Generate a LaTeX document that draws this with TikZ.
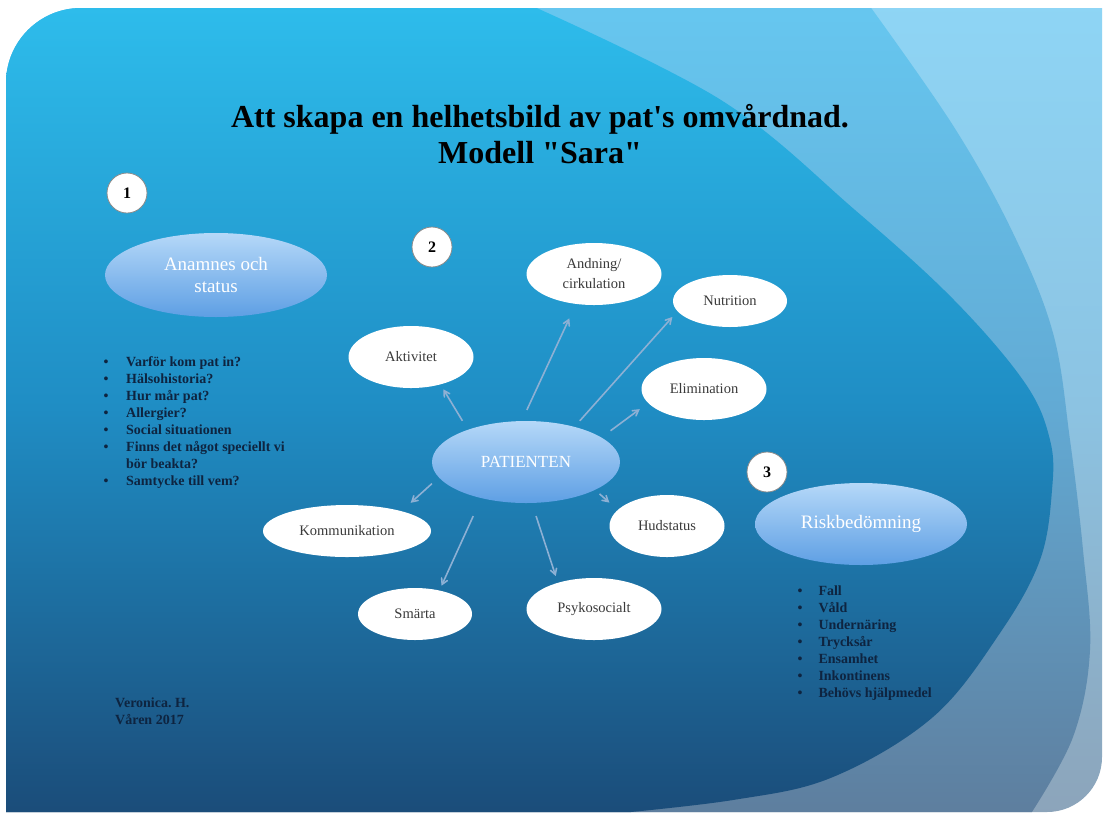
\documentclass[tikz,border=0pt]{standalone}
\usepackage{fontspec}
\setmainfont{Liberation Serif}
\usepackage{tikz}
\usetikzlibrary{shapes,arrows}
\definecolor{lighttop}{HTML}{8ED5F5}
\definecolor{lightmid}{HTML}{8CC3E2}
\definecolor{lightbot}{HTML}{8CA4BA}
\definecolor{medtop}{HTML}{66C7F0}
\definecolor{medmid}{HTML}{62AAD4}
\definecolor{medbot}{HTML}{5E7E9E}
\definecolor{darktop}{HTML}{2EBDEC}
\definecolor{darkmid}{HTML}{1F8DC4}
\definecolor{darkbot}{HTML}{1B4C79}
\definecolor{elltop}{HTML}{B5D8F8}
\definecolor{ellbot}{HTML}{5E9FE4}
\definecolor{elltext}{HTML}{3A3A3A}
\definecolor{navy}{HTML}{0E2440}
\definecolor{arrcol}{HTML}{8DB0D4}

\begin{document}
\begin{tikzpicture}[x=1pt,y=-1pt,
	blueell/.style={ellipse, inner sep=0pt, outer sep=0pt, top color=elltop, bottom color=ellbot, text=white, align=center, font=\fontsize{19}{22}\selectfont},
	whiteell/.style={ellipse, fill=white, inner sep=0pt, outer sep=0pt, text=elltext, align=center, font=\fontsize{14.5}{20}\selectfont},
	numcirc/.style={circle, fill=white, draw=black!45, line width=0.8pt, minimum size=40pt, inner sep=0pt, font=\fontsize{16}{16}\selectfont\bfseries},
	arr/.style={-angle 60, draw=arrcol, line width=1.6pt},
	listtext/.style={anchor=north west, inner sep=0pt, align=left, text=navy, font=\fontsize{14}{17}\selectfont\bfseries}]
	%Page and slide size
	%Slide runs from (\sl,\st) to (\sr,\sb), corners \rtl and \rbr
	\pgfmathsetmacro{\sl}{6}
	\pgfmathsetmacro{\st}{8}
	\pgfmathsetmacro{\sr}{1102}
	\pgfmathsetmacro{\sb}{812}
	\pgfmathsetmacro{\rtl}{75}
	\pgfmathsetmacro{\rbr}{55}
	
	\useasboundingbox (0,0) rectangle (1108,815);
	\fill[white] (0,0) rectangle (1108,815);
	
	\begin{scope}
	%The slide with round top left and bottom right corner
	\clip (\sl,\st+\rtl) .. controls (\sl,\st+0.448*\rtl) and (\sl+0.448*\rtl,\st) .. (\sl+\rtl,\st)
		-- (\sr,\st) -- (\sr,\sb-\rbr)
		.. controls (\sr,\sb-0.448*\rbr) and (\sr-0.448*\rbr,\sb) .. (\sr-\rbr,\sb)
		-- (\sl,\sb) -- cycle;
	
	%Outer light layer
	\path[top color=lighttop, bottom color=lightbot, middle color=lightmid] (0,0) rectangle (1108,815);
	
	%Middle layer
	\path[top color=medtop, bottom color=medbot, middle color=medmid] (0,0) -- (869,0)
		-- plot[smooth, tension=0.6] coordinates {(869,5) (954,127) (1013,233) (1053,333) (1070,440) (1083,550) (1090,650) (1073,737) (1030,815)}
		-- (0,815) -- cycle;
	
	%Dark main layer
	\path[top color=darktop, bottom color=darkbot, middle color=darkmid] (0,0) -- (530,0)
		-- plot[smooth, tension=0.6] coordinates {(530,5) (721,100) (855,210) (954,300) (1025,383) (1050,440) (1052,490) (1040,560) (1000,633) (933,717) (833,777) (733,800) (600,815)}
		-- (0,815) -- cycle;
	\end{scope}
	
	%Title
	\node[inner sep=0pt, align=center, font=\fontsize{32}{36}\selectfont\bfseries] (title) at (540,134)
		{Att skapa en helhetsbild av pat\textquotesingle s omvårdnad.\\Modell \textquotedbl Sara\textquotedbl};
	
	%Numbers
	\node[numcirc] (n1) at (127,193) {1};
	\node[numcirc] (n2) at (432,247) {2};
	\node[numcirc] (n3) at (767,472) {3};
	
	%Big blue ellipses
	\node[blueell, minimum width=222pt, minimum height=84pt] (anam) at (216,275) {Anamnes och\\status};
	\node[blueell, minimum width=188pt, minimum height=82pt, font=\fontsize{17}{20}\selectfont] (pat) at (526,462) {PATIENTEN};
	\node[blueell, minimum width=212pt, minimum height=82pt] (risk) at (861,524) {Riskbedömning};
	
	%White ellipses round the patient
	\node[whiteell, minimum width=135pt, minimum height=62pt] (andn) at (594,274) {Andning/\\cirkulation};
	\node[whiteell, minimum width=114pt, minimum height=52pt] (nutr) at (730,301) {Nutrition};
	\node[whiteell, minimum width=125pt, minimum height=62pt] (akt) at (411,357) {Aktivitet};
	\node[whiteell, minimum width=125pt, minimum height=62pt] (elim) at (704,389) {Elimination};
	\node[whiteell, minimum width=168pt, minimum height=52pt] (komm) at (347,531) {Kommunikation};
	\node[whiteell, minimum width=115pt, minimum height=62pt] (hud) at (667,526) {Hudstatus};
	\node[whiteell, minimum width=114pt, minimum height=52pt] (sma) at (415,614) {Smärta};
	\node[whiteell, minimum width=135pt, minimum height=62pt] (psy) at (594,609) {Psykosocialt};
	
	%Arrows from the patient
	\draw[arr, shorten <=10.5pt, shorten >=5.8pt] (pat.151) -- (akt.317);
	\draw[arr, shorten <=12.2pt, shorten >=15.9pt] (pat.96) -- (andn.239);
	\draw[arr, shorten <=8.1pt, shorten >=7.8pt] (pat.36) -- (nutr.191);
	\draw[arr, shorten <=11.4pt, shorten >=10.4pt] (pat.18) -- (elim.194);
	\draw[arr, shorten <=9.3pt, shorten >=12.5pt] (pat.190) -- (komm.20);
	\draw[arr, shorten <=6.1pt, shorten >=11.2pt] (pat.338) -- (hud.162);
	\draw[arr, shorten <=19.7pt, shorten >=5.3pt] (pat.219) -- (sma.44);
	\draw[arr, shorten <=13.8pt, shorten >=7.1pt] (pat.278) -- (psy.144);
	
	%Bullet lists
	\node[listtext] (anamlist) at (103.5,356) {%
		\makebox[22.5pt][l]{\textbullet}Varför kom pat in?\\
		\makebox[22.5pt][l]{\textbullet}Hälsohistoria?\\
		\makebox[22.5pt][l]{\textbullet}Hur mår pat?\\
		\makebox[22.5pt][l]{\textbullet}Allergier?\\
		\makebox[22.5pt][l]{\textbullet}Social situationen\\
		\makebox[22.5pt][l]{\textbullet}Finns det något speciellt vi\\
		\makebox[22.5pt][l]{}bör beakta?\\
		\makebox[22.5pt][l]{\textbullet}Samtycke till vem?};
	\node[listtext] (risklist) at (797.5,585.5) {%
		\makebox[20.8pt][l]{\textbullet}Fall\\
		\makebox[20.8pt][l]{\textbullet}Våld\\
		\makebox[20.8pt][l]{\textbullet}Undernäring\\
		\makebox[20.8pt][l]{\textbullet}Trycksår\\
		\makebox[20.8pt][l]{\textbullet}Ensamhet\\
		\makebox[20.8pt][l]{\textbullet}Inkontinens\\
		\makebox[20.8pt][l]{\textbullet}Behövs hjälpmedel};
	
	%Signature
	\node[listtext] (sign) at (115,698) {Veronica.\ H.\\Våren 2017};
\end{tikzpicture}
\end{document}
